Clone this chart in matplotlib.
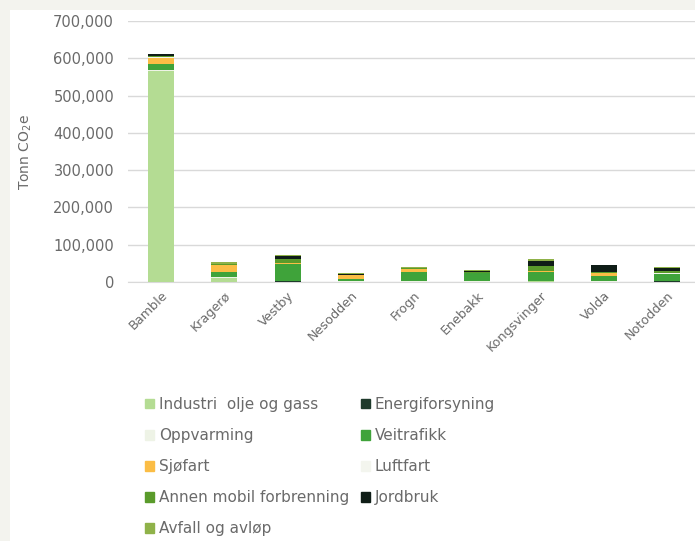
import matplotlib.pyplot as plt
import matplotlib.patches as mpatches
import numpy as np

kommuner = ['Bamble', 'Kragerø', 'Vestby', 'Nesodden', 'Frogn', 'Enebakk',
            'Kongsvinger', 'Volda', 'Notodden']

# utslipp per sektor, tonn CO2e
industri = [565000, 10000, 1000, 500, 500, 500, 1500, 500, 1000]
energiforsyning = [1000, 500, 1000, 500, 500, 500, 1000, 500, 500]
oppvarming = [2000, 2000, 1500, 1000, 1000, 1000, 1500, 1000, 1000]
veitrafikk = [17000, 14000, 46000, 5000, 26000, 22000, 24000, 13000, 19000]
sjofart = [17000, 18000, 2000, 11000, 6000, 500, 1000, 9000, 1000]
luftfart = [500, 500, 500, 500, 500, 0, 500, 500, 500]
annen_mobil = [3000, 3000, 11000, 1000, 2000, 3000, 13000, 1000, 6000]
jordbruk = [5000, 1000, 6000, 3000, 1000, 3000, 14000, 19000, 8000]
avfall = [2000, 4000, 4000, 500, 3000, 1000, 4000, 1000, 2000]

sektorer = ['Industri  olje og gass', 'Energiforsyning', 'Oppvarming', 'Veitrafikk',
            'Sjøfart', 'Luftfart', 'Annen mobil forbrenning', 'Jordbruk', 'Avfall og avløp']
serier = [industri, energiforsyning, oppvarming, veitrafikk, sjofart, luftfart,
          annen_mobil, jordbruk, avfall]
farger = ['#b4dc93', '#1f3b2c', '#eef3e6', '#3fa33a', '#fbbd45', '#f3f5ee',
          '#5a9b2b', '#0f1d17', '#8fb249']

grey = '#6a6a6a'

fig = plt.figure(figsize=(6.95, 5.41), dpi=100)
fig.patch.set_facecolor('#f3f3ee')
fig.add_artist(mpatches.Rectangle((10 / 695, 0), 1, 531 / 541,
                                  transform=fig.transFigure, facecolor='white',
                                  edgecolor='none', zorder=0))

ax = fig.add_axes([128 / 695, 259 / 541, 571 / 695, 261 / 541])
ax.set_facecolor('none')

x = np.arange(len(kommuner))
bunn = np.zeros(len(kommuner))
for navn, verdier, farge in zip(sektorer, serier, farger):
    ax.bar(x, verdier, bottom=bunn, width=0.41, color=farge, label=navn, zorder=3)
    bunn += np.array(verdier)

ax.set_xlim(-0.52, 8.5)
ax.set_ylim(0, 700000)
ax.set_yticks(np.arange(0, 700001, 100000))
ax.set_yticklabels([f'{v:,}' for v in range(0, 700001, 100000)])
ax.yaxis.grid(True, color='#d9d9d9', linewidth=1, zorder=0)
for s in ['top', 'right', 'left']:
    ax.spines[s].set_visible(False)
ax.spines['bottom'].set_color('#d9d9d9')
ax.tick_params(axis='y', length=0, pad=10, labelsize=10.5, labelcolor=grey)
ax.tick_params(axis='x', length=0, pad=5, labelsize=9.2, labelcolor=grey)
ax.set_xticks(x)
ax.set_xticklabels(kommuner, rotation=45, ha='right', rotation_mode='anchor')
ax.set_ylabel('Tonn CO$_2$e', color=grey, fontsize=10, labelpad=14)

handles = [mpatches.Patch(color=c) for c in farger]
venstre = [0, 2, 4, 6, 8]
hoyre = [1, 3, 5, 7]
for idx, xpos in [(venstre, 145), (hoyre, 361)]:
    leg = fig.legend([handles[i] for i in idx], [sektorer[i] for i in idx],
                     loc='upper left', bbox_to_anchor=(xpos / 695, 1 - 397 / 541),
                     frameon=False, fontsize=11, labelcolor=grey,
                     handlelength=0.6, handleheight=0.6, handletextpad=0.3,
                     labelspacing=1.05, borderpad=0, borderaxespad=0)

fig.savefig('out.png', dpi=100, facecolor=fig.get_facecolor())
